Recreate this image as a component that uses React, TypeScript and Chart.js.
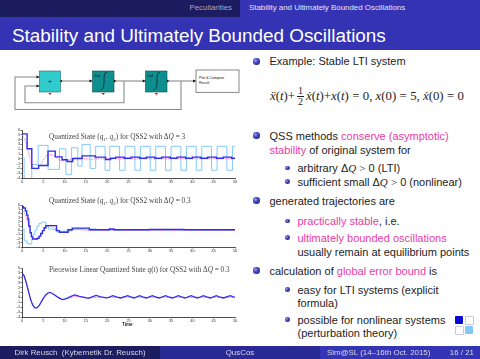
import React, { useEffect, useRef } from "react";
import { Chart, registerables } from "chart.js";
Chart.register(...registerables);

type P = [number, number][];

// ---------- data ----------
const TIME_MIN = 0;
const TIME_MAX = 50;
const TIME_STEP = 5;
const STATE_MIN = -4;
const STATE_MAX = 6;
const STATE_STEP = 1;

// exact solution (magenta dotted)
const exactX: P = [
  [0, 5.0], [0.5, 4.4], [1, 3.0], [1.5, 1.3], [2, -0.35], [2.5, -1.55], [3, -2.15], [3.5, -2.15],
  [4, -1.7], [4.5, -0.95], [5, -0.2], [5.5, 0.45], [6, 0.86], [6.5, 0.98], [7, 0.87], [7.5, 0.6],
  [8, 0.25], [8.5, -0.07], [9, -0.31], [9.5, -0.43], [10, -0.42], [11, -0.19], [12, 0.09],
  [13, 0.19], [14, 0.12], [15, -0.02], [16, -0.08], [17, -0.06], [18, -0.01], [20, 0.02], [24, 0], [50, 0],
];

// plot 1: QSS2, dQ = 3
const q1Dq3: P = [
  [0, 5.2], [1.2, 2.1], [2.3, -2.0], [3.9, -1.4], [6.1, 1.6], [7.8, 0.4], [9.4, -0.2], [10.6, -0.55],
  [11.9, 0.05], [14.1, 0.6], [17.2, 0.35], [19.6, -0.15], [20.8, 0.1], [22.0, 0.35], [24.0, 0.1],
  [25.6, 0.35], [27.6, 0.1], [29.2, 0.35], [31.2, 0.1], [32.8, 0.35], [34.8, 0.1], [36.4, 0.35],
  [38.4, 0.1], [40.0, 0.35], [42.0, 0.1], [43.6, 0.35], [45.6, 0.1], [47.2, 0.35], [49.2, 0.1], [50, 0.1],
];
const q2Dq3: P = [
  [0, 0.2], [0.5, -4.5], [2.3, -1.2], [3.8, 2.8], [6.1, -2.2], [8.8, 2.1], [10.3, -3.3], [11.6, 2.3],
  [13.1, -1.5], [14.1, 3.0], [16.0, -2.0], [17.3, 2.6], [19.5, -2.4], [20.6, 2.6], [22.9, -2.4],
  [24.2, 2.6], [26.5, -2.4], [27.8, 2.6], [30.1, -2.4], [31.4, 2.6], [33.7, -2.4], [35.0, 2.6],
  [37.3, -2.4], [38.6, 2.6], [40.9, -2.4], [42.2, 2.6], [44.5, -2.4], [45.8, 2.6], [48.1, -2.4],
  [49.4, 2.6], [50, 2.6],
];

// plot 2: QSS2, dQ = 0.3
const q1Dq03: P = [
  [0, 5.6], [0.3, 5.3], [0.8, 4.6], [1.1, 3.6], [1.4, 2.6], [1.6, 1.0], [1.9, -0.6], [2.2, -1.6],
  [2.5, -2.1], [3.6, -1.9], [4.0, -1.4], [4.4, -0.8], [4.8, -0.1], [5.2, 0.6], [5.6, 1.1],
  [8.1, -0.1], [8.8, -0.5], [10.8, 0.1], [11.8, 0.5], [15.8, 0.1], [20.5, 0.3], [21.6, 0.1],
  [30, 0.15], [38, 0.1], [50, 0.1],
];
const q2Dq03: P = [
  [0, 0.3], [0.5, -2.4], [1.1, -3.0], [1.5, -3.3], [2.3, -2.0], [2.6, -1.0], [3.0, 0.0], [3.5, 1.0],
  [4.0, 1.6], [4.5, 1.9], [5.6, 0.9], [6.2, 0.3], [7.0, 0.2], [8.0, -0.4], [9.5, -0.2], [11.6, 0.2],
  [12.5, 0.3], [17.5, 0.05], [50, 0.05],
];

// plot 3: piecewise linear q(t), dQ = 0.3
const qLin: P = [
  [0, 5.0], [0.5, 4.4], [1, 3.0], [1.5, 1.3], [2, -0.35], [2.5, -1.55], [3, -2.15], [3.5, -2.15],
  [4, -1.7], [4.5, -0.95], [5, -0.2], [5.5, 0.45], [6, 0.85], [6.5, 1.0], [7, 0.85], [7.5, 0.6],
  [8, 0.3], [8.5, 0.0], [9.2, -0.35], [9.6, -0.45], [10.5, -0.2], [11.5, 0.2], [12.4, 0.5],
  [13.5, 0.2], [14.6, 0.0], [15.6, -0.2], [16.6, 0.15], [17.4, 0.4], [18.5, 0.1], [19.8, -0.1],
  [20.4, 0.0], [21.3, 0.35], [22.3, 0.05], [23.2, -0.12], [24.8, 0.35], [25.5, 0.1], [26.3, -0.12],
  [27.6, 0.35], [28.3, 0.1], [29.2, -0.12], [30.6, 0.35], [31.3, 0.1], [32.2, -0.12], [33.7, 0.35],
  [34.4, 0.1], [35.3, -0.12], [36.7, 0.35], [37.4, 0.1], [38.3, -0.12], [39.7, 0.35], [40.4, 0.1],
  [41.2, -0.12], [42.6, 0.35], [43.3, 0.1], [44.2, -0.12], [45.6, 0.35], [46.3, 0.1], [47.3, -0.12],
  [48.9, 0.35], [49.6, 0.1], [50, 0.05],
];

// ---------- styles ----------
const SANS = '"Liberation Sans", Arial, Helvetica, sans-serif';
const SERIF = '"Liberation Serif", "DejaVu Serif", serif';
const DARK = "#2f2fe8";
const LIGHT = "#86c8f8";
const MAG = "#ff5fd8";
const ALERT = "#e83ca8";
const TEXT = "#1c1c1c";
const BODY = 11;

const pts = (p: P) => p.map(([x, y]) => ({ x, y }));

type DS = { data: P; color: string; width: number; stepped?: boolean; dash?: number[] };

function Plot(props: { left: number; top: number; width: number; height: number; padTop: number; xH: number; series: DS[] }) {
  const ref = useRef<HTMLCanvasElement>(null);
  useEffect(() => {
    const tickFont = { size: 3.8, family: SANS };
    const chart = new Chart(ref.current!, {
      type: "line",
      data: {
        datasets: props.series.map((s) => ({
          data: pts(s.data),
          borderColor: s.color,
          borderWidth: s.width,
          pointRadius: 0,
          fill: false,
          tension: 0,
          stepped: s.stepped ? "before" : false,
          borderDash: s.dash || [],
        })),
      } as any,
      options: {
        animation: false,
        responsive: false,
        maintainAspectRatio: false,
        events: [],
        layout: { padding: { top: props.padTop, right: 10, left: 0, bottom: 0 } },
        plugins: { legend: { display: false }, tooltip: { enabled: false }, title: { display: false } },
        scales: {
          x: {
            type: "linear",
            min: TIME_MIN,
            max: TIME_MAX,
            ticks: { stepSize: TIME_STEP, font: tickFont, color: "#333", padding: 0.5, maxRotation: 0, autoSkip: false },
            grid: { display: true, drawOnChartArea: false, drawTicks: true, tickLength: 1.5, color: "#222", lineWidth: 0.6 },
            border: { display: true, color: "#222", width: 0.8 },
            afterFit: (s: any) => { s.height = props.xH; },
          },
          y: {
            type: "linear",
            min: STATE_MIN,
            max: STATE_MAX,
            ticks: { stepSize: STATE_STEP, font: tickFont, color: "#333", padding: 0.5, autoSkip: false },
            grid: { display: true, drawOnChartArea: false, drawTicks: true, tickLength: 1.5, color: "#222", lineWidth: 0.6 },
            border: { display: true, color: "#222", width: 0.8 },
            afterFit: (s: any) => { s.width = 22; },
          },
        },
      } as any,
    });
    return () => chart.destroy();
  }, []);
  return (
    <canvas
      ref={ref}
      width={props.width}
      height={props.height}
      style={{ position: "absolute", left: props.left, top: props.top, width: props.width, height: props.height }}
    />
  );
}

function Ball({ cx, cy, r }: { cx: number; cy: number; r: number }) {
  return (
    <div
      style={{
        position: "absolute",
        left: cx - r,
        top: cy - r,
        width: 2 * r,
        height: 2 * r,
        borderRadius: "50%",
        background: "radial-gradient(circle at 35% 35%, #9a9ae8 0%, #4444c0 40%, #1e1e70 100%)",
      }}
    />
  );
}

function Line({ x, y, children, size = BODY }: { x: number; y: number; children: any; size?: number }) {
  return (
    <div
      style={{
        position: "absolute",
        left: x,
        top: y - 7,
        height: 14,
        lineHeight: "14px",
        fontFamily: SANS,
        fontSize: size,
        color: TEXT,
        whiteSpace: "nowrap",
      }}
    >
      {children}
    </div>
  );
}

const A = ({ children }: { children: any }) => <span style={{ color: ALERT }}>{children}</span>;
const M = ({ children }: { children: any }) => (
  <span style={{ fontFamily: SERIF, fontStyle: "italic" }}>{children}</span>
);
const R = ({ children }: { children: any }) => <span style={{ fontFamily: SERIF }}>{children}</span>;
const Eq = () => <span style={{ margin: "0 3.4px" }}>=</span>;

function PlotTitle({ x, y, size, children }: { x: number; y: number; size: number; children: any }) {
  return (
    <div
      style={{
        position: "absolute",
        left: x,
        top: y - 5,
        height: 10,
        lineHeight: "10px",
        fontFamily: SERIF,
        fontSize: size,
        color: "#444",
        whiteSpace: "nowrap",
      }}
    >
      {children}
    </div>
  );
}

function Diagram() {
  const g = "#8a8a8a";
  const arrow = (x: number, y: number) => (
    <polygon points={`${x - 3},${y - 1.6} ${x},${y} ${x - 3},${y + 1.6}`} fill="#111" />
  );
  const integ = (x: number) => (
    <g>
      <rect x={x} y={71} width={21.5} height={21} fill="#0e8f8f" stroke="#0a4f4f" strokeWidth={0.6} />
      <text x={x + 2} y={77} fontSize={3.8} fontStyle="italic" fontFamily={SERIF} fill="#111">2nd</text>
      <path d={`M${x + 14.5},${72.5} C${x + 12},${72} ${x + 11.5},${75} ${x + 11.5},${81} S${x + 10.5},${90} ${x + 8},${89.5}`} stroke="#111" strokeWidth={0.7} fill="none" />
      <polygon points={`${x + 9},${93} ${x + 12.5},${93} ${x + 10.75},${95}`} fill="#ff0000" />
      <polygon points={`${x + 21.5},${79.5} ${x + 24},${81} ${x + 21.5},${82.5}`} fill="#111" />
    </g>
  );
  return (
    <svg width={250} height={120} style={{ position: "absolute", left: 0, top: 0 }} viewBox="0 0 250 120">
      <polyline points="63,81 92.5,81" stroke={g} strokeWidth={1.1} fill="none" />
      <polyline points="116,81 145.7,81" stroke={g} strokeWidth={1.1} fill="none" />
      <polyline points="169,81 196,81" stroke={g} strokeWidth={1.1} fill="none" />
      <polyline points="124,81 124,102.7 25,102.7 25,86 39.5,86" stroke={g} strokeWidth={1.1} fill="none" />
      <polyline points="181,81 181,109.5 15,109.5 15,77 39.5,77" stroke={g} strokeWidth={1.1} fill="none" />
      {arrow(39.5, 77)}
      {arrow(39.5, 86)}
      {arrow(92.5, 81)}
      {arrow(145.7, 81)}
      {arrow(196, 81)}
      <rect x={39.5} y={71} width={21} height={21} fill="#30cccc" stroke="#1a6f6f" strokeWidth={0.6} />
      <text x={50} y={83.5} fontSize={6.5} textAnchor="middle" fontFamily={SANS} fill="#111">+</text>
      <polygon points="48.3,93 51.8,93 50,95" fill="#ff0000" />
      <polygon points="60.5,79.5 63,81 60.5,82.5" fill="#111" />
      {integ(92.5)}
      {integ(145.5)}
      <rect x={196} y={70} width={43} height={22.3} fill="#fff" stroke="#555" strokeWidth={0.7} />
      <text x={199} y={78.5} fontSize={3.6} fontFamily={SANS} fill="#111">Plot &amp; Compare</text>
      <text x={199} y={84} fontSize={3.6} fontFamily={SANS} fill="#111">Result</text>
    </svg>
  );
}

export default function App() {
  const dq = (
    <>
      Δ<M>Q</M>
    </>
  );
  const sub = { fontSize: 5 };
  return (
    <div
      style={{
        position: "absolute",
        left: 0,
        top: 0,
        width: 480,
        height: 359,
        overflow: "hidden",
        background: "#fff",
        fontFamily: SANS,
      }}
    >
      {/* header */}
      <div style={{ position: "absolute", left: 0, top: 0, width: 240, height: 17, background: "#1c1c60" }} />
      <div style={{ position: "absolute", left: 240, top: 0, width: 240, height: 17, background: "#3333b3" }} />
      <div style={{ position: "absolute", left: 0, top: 17, width: 480, height: 33, background: "#3333b3" }} />
      <div style={{ position: "absolute", right: 248, top: 3, fontSize: 7.9, lineHeight: "10px", color: "#a6a6cc", whiteSpace: "nowrap" }}>
        Peculiarities
      </div>
      <div style={{ position: "absolute", left: 249, top: 3, fontSize: 7.9, lineHeight: "10px", color: "#e4e4f4", whiteSpace: "nowrap" }}>
        Stability and Ultimately Bounded Oscillations
      </div>
      <div style={{ position: "absolute", left: 12, top: 24, fontSize: 18.9, lineHeight: "24px", color: "#fff", whiteSpace: "nowrap" }}>
        Stability and Ultimately Bounded Oscillations
      </div>

      <Diagram />

      {/* plots */}
      <Plot
        left={0}
        top={126}
        width={245}
        height={62}
        padTop={4}
        xH={10}
        series={[
          { data: q1Dq3, color: DARK, width: 1.4, stepped: true },
          { data: exactX, color: MAG, width: 1, dash: [1.2, 1.2] },
          { data: q2Dq3, color: LIGHT, width: 1, stepped: true },
        ]}
      />
      <Plot
        left={0}
        top={201}
        width={245}
        height={55}
        padTop={4}
        xH={9}
        series={[
          { data: q1Dq03, color: DARK, width: 1.4, stepped: true },
          { data: exactX, color: MAG, width: 1, dash: [1.2, 1.2] },
          { data: q2Dq03, color: LIGHT, width: 1, stepped: true },
        ]}
      />
      <Plot
        left={0}
        top={264}
        width={245}
        height={64}
        padTop={4}
        xH={11}
        series={[
          { data: qLin, color: DARK, width: 1.3 },
          { data: exactX, color: MAG, width: 1, dash: [1.2, 1.2] },
        ]}
      />
      <PlotTitle x={49} y={137} size={7.3}>
        Quantized State (<i>q</i><sub style={sub}>1</sub>, <i>q</i><sub style={sub}>2</sub>) for QSS2 with Δ<i>Q</i> = 3
      </PlotTitle>
      <PlotTitle x={49} y={201} size={7.3}>
        Quantized State (<i>q</i><sub style={sub}>1</sub>, <i>q</i><sub style={sub}>2</sub>) for QSS2 with Δ<i>Q</i> = 0.3
      </PlotTitle>
      <PlotTitle x={49} y={270} size={7.2}>
        Piecewise Linear Quantized State <i>q</i>(<i>t</i>) for QSS2 with Δ<i>Q</i> = 0.3
      </PlotTitle>
      <div style={{ position: "absolute", left: 122, top: 322, fontSize: 4.5, fontWeight: "bold", color: "#222", lineHeight: "6px" }}>Time</div>

      {/* right column text */}
      <Ball cx={256.5} cy={61.5} r={3.2} />
      <Line x={269.5} y={61}>Example: Stable LTI system</Line>

      <div style={{ position: "absolute", left: 270, top: 84, height: 24, whiteSpace: "nowrap", fontFamily: SERIF, fontSize: 12.8, color: TEXT, display: "flex", alignItems: "center" }}>
        <M>ẍ</M>(<M>t</M>)+
        <span style={{ display: "inline-flex", flexDirection: "column", alignItems: "center", fontSize: 10, lineHeight: "10px", margin: "0 2px" }}>
          <span>1</span>
          <span style={{ borderTop: "0.7px solid #1c1c1c", padding: "0 1px" }}>2</span>
        </span>
        <M>ẋ</M>(<M>t</M>)+<M>x</M>(<M>t</M>)<Eq />0,&nbsp;<M>x</M>(0)<Eq />5,&nbsp;<M>ẋ</M>(0)<Eq />0
      </div>

      <Ball cx={256.5} cy={135.5} r={3.2} />
      <Line x={269.5} y={136}>QSS methods <A>conserve (asymptotic)</A></Line>
      <Line x={269.5} y={149.5}><A>stability</A> of original system for</Line>
      <Ball cx={287.5} cy={168} r={2.3} />
      <Line x={297.5} y={168}>arbitrary {dq} <R>&gt;</R> 0 (LTI)</Line>
      <Ball cx={287.5} cy={181.5} r={2.3} />
      <Line x={297.5} y={181.5}>sufficient small {dq} <R>&gt;</R> 0 (nonlinear)</Line>
      <Ball cx={256.5} cy={200.5} r={3.2} />
      <Line x={269.5} y={200.5}>generated trajectories are</Line>
      <Ball cx={287.5} cy={221} r={2.3} />
      <Line x={297.5} y={221}><A>practically stable</A>, i.e.</Line>
      <Ball cx={287.5} cy={237.5} r={2.3} />
      <Line x={297.5} y={237.5}><A>ultimately bounded oscillations</A></Line>
      <Line x={297.5} y={251.5}>usually remain at equilibrium points</Line>
      <Ball cx={256.5} cy={270.5} r={3.2} />
      <Line x={269.5} y={270.5}>calculation of <A>global error bound</A> is</Line>
      <Ball cx={287.5} cy={289.5} r={2.3} />
      <Line x={297.5} y={289.5}>easy for LTI systems (explicit</Line>
      <Line x={297.5} y={302.5}>formula)</Line>
      <Ball cx={287.5} cy={319.5} r={2.3} />
      <Line x={297.5} y={319.5}>possible for nonlinear systems</Line>
      <Line x={297.5} y={333}>(perturbation theory)</Line>

      {/* logo */}
      <div style={{ position: "absolute", left: 455, top: 316, width: 8, height: 8, background: "#0a0ad0", borderRadius: 1 }} />
      <div style={{ position: "absolute", left: 465, top: 316, width: 7, height: 7, border: "0.8px solid #c8c8d8", borderRadius: 1 }} />
      <div style={{ position: "absolute", left: 455, top: 326, width: 7, height: 7, border: "0.8px solid #c8c8d8", borderRadius: 1 }} />
      <div style={{ position: "absolute", left: 465, top: 326, width: 8, height: 8, background: "#86c6f4", borderRadius: 1 }} />

      {/* footer */}
      <div style={{ position: "absolute", left: 0, top: 346, width: 160, height: 13, background: "#1c1c60" }} />
      <div style={{ position: "absolute", left: 160, top: 346, width: 160, height: 13, background: "#2a2a96" }} />
      <div style={{ position: "absolute", left: 320, top: 346, width: 160, height: 13, background: "#3434b6" }} />
      <div style={{ position: "absolute", left: 0, top: 348, width: 160, textAlign: "center", fontSize: 7.9, lineHeight: "10px", color: "#d8d8e8", whiteSpace: "pre" }}>
        {"Dirk Reusch  (Kybernetik Dr. Reusch)"}
      </div>
      <div style={{ position: "absolute", left: 160, top: 348, width: 160, textAlign: "center", fontSize: 7.9, lineHeight: "10px", color: "#d8d8e8" }}>
        QusCos
      </div>
      <div style={{ position: "absolute", left: 327, top: 348, fontSize: 7.9, lineHeight: "10px", color: "#d8d8e8", whiteSpace: "nowrap" }}>
        Sim@SL (14–16th Oct. 2015)
      </div>
      <div style={{ position: "absolute", right: 6, top: 348, fontSize: 7.9, lineHeight: "10px", color: "#d8d8e8", whiteSpace: "nowrap" }}>
        16 / 21
      </div>
    </div>
  );
}
